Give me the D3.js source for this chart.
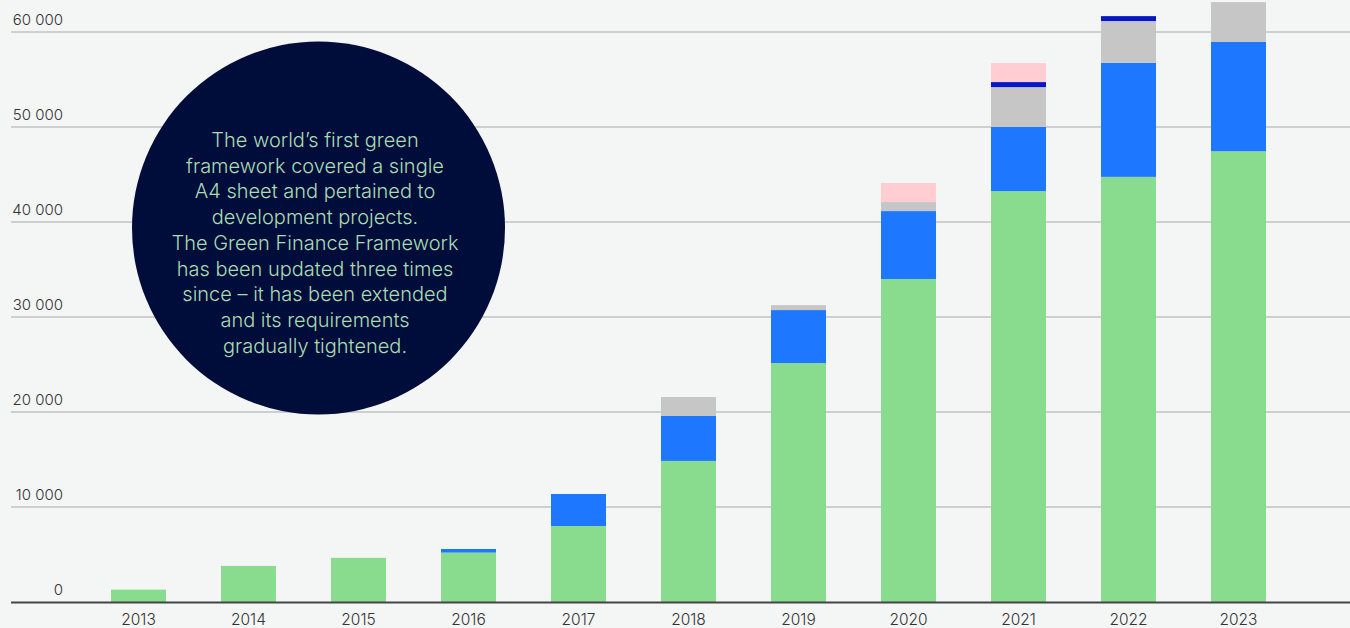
<!DOCTYPE html>
<html><head><meta charset="utf-8">
<script src="https://cdn.jsdelivr.net/npm/d3@7"></script>
<style>
html,body{margin:0;padding:0;background:#f4f6f5;}
svg{display:block;}
</style></head>
<body>
<svg id="chart" width="1350" height="628"></svg>
<script>
const years = ["2013","2014","2015","2016","2017","2018","2019","2020","2021","2022","2023"];
const seriesNames = ["s1","s2","s3","s4","s5"];
const s1 = [1300, 3800, 4650, 5200, 8000, 14850, 25150, 34000, 43250, 44750, 47450];
const s2 = [0, 0, 0, 380, 3370, 4730, 5580, 7150, 6750, 12000, 11500];
const s3 = [0, 0, 0, 0, 0, 2000, 520, 950, 4200, 4400, 4200];
const s4 = [0, 0, 0, 0, 0, 0, 0, 0, 530, 520, 0];
const s5 = [0, 0, 0, 0, 0, 0, 0, 2000, 2000, 0, 0];
const colors = ["#89dc8e", "#1e78ff", "#c6c6c6", "#0616c8", "#ffcdd2"];
const yTicks = [0, 10000, 20000, 30000, 40000, 50000, 60000];
const calloutLines = ["The world\u2019s first green","framework covered a single","A4 sheet and pertained to","development projects.","The Green Finance Framework","has been updated three times","since \u2013 it has been extended","and its requirements","gradually tightened."];

const svg = d3.select("#chart");
const W = 1350, H = 628;
const table = years.map((y,i)=>({year:y, s1:s1[i], s2:s2[i], s3:s3[i], s4:s4[i], s5:s5[i]}));
const stacked = d3.stack().keys(seriesNames)(table);

const x = d3.scaleBand().domain(years).range([56,1321]).paddingInner(0.5).paddingOuter(0.5);
const y = d3.scaleLinear().domain([0,60000]).range([602,32]);

// gridlines
const fmt = v => v===0 ? "0" : d3.format(",")(v).replace(/,/g," ");
const grid = svg.append("g");
grid.selectAll("line").data(yTicks.filter(d=>d>0)).join("line")
  .attr("x1",11).attr("x2",W).attr("y1",d=>y(d)).attr("y2",d=>y(d))
  .attr("stroke","#a8a8a8").attr("stroke-width",1.2);
grid.selectAll("text").data(yTicks).join("text")
  .attr("x",63).attr("y",d=>y(d)-7).attr("text-anchor","end")
  .attr("font-family","Inter, sans-serif").attr("font-size",15).attr("font-weight",300)
  .attr("fill","#333").text(fmt);

// bars
svg.append("g").selectAll("g").data(stacked).join("g")
  .attr("fill",(d,i)=>colors[i])
  .selectAll("rect").data(d=>d).join("rect")
  .attr("x",d=>x(d.data.year)).attr("width",x.bandwidth())
  .attr("y",d=>y(d[1])).attr("height",d=>Math.max(0,y(d[0])-y(d[1])));

// baseline
svg.append("line").attr("x1",11).attr("x2",W).attr("y1",y(0)+0.5).attr("y2",y(0)+0.5)
  .attr("stroke","#444").attr("stroke-width",2);

// x axis
const xAxis = d3.axisBottom(x).tickSize(0).tickPadding(12);
const xg = svg.append("g").attr("transform",`translate(0,${y(0)})`).call(xAxis);
xg.select(".domain").remove();
xg.selectAll("text").attr("font-family","Inter, sans-serif").attr("font-size",15.5).attr("font-weight",300).attr("fill","#333");

// callout circle
const cx = 318.5, cy = 228, r = 186.5;
svg.append("circle").attr("cx",cx).attr("cy",cy).attr("r",r).attr("fill","#000c3a");
svg.append("g").selectAll("text").data(calloutLines).join("text")
  .attr("x",315).attr("y",(d,i)=>147 + i*25.7).attr("text-anchor","middle")
  .attr("font-family","Inter, sans-serif").attr("font-size",20).attr("font-weight",300)
  .attr("fill","#a9dcb3").text(d=>d);
</script>
</body></html>
